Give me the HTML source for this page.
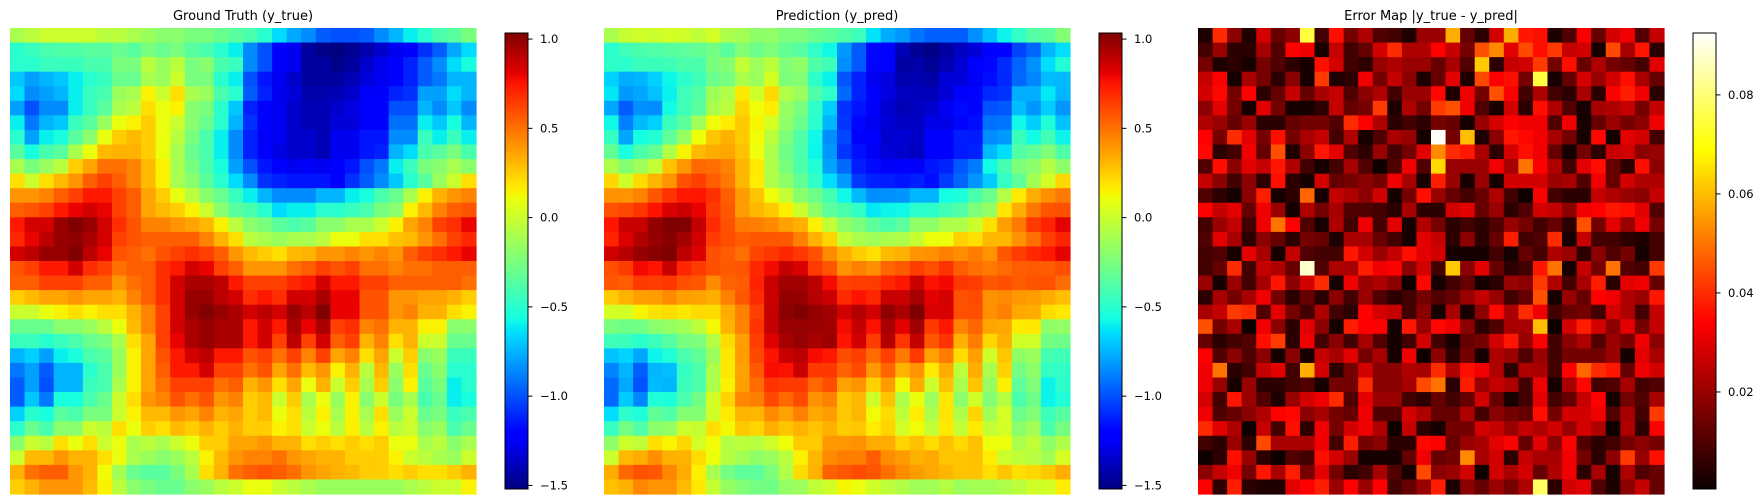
<!DOCTYPE html>
<html><head><meta charset="utf-8">
<style>
html,body{margin:0;padding:0;background:#fff;}
svg{display:block;font-family:"DejaVu Sans","Liberation Sans",sans-serif;}
</style></head>
<body>
<svg id="chart" width="1762" height="504" viewBox="0 0 1762 504" xmlns="http://www.w3.org/2000/svg">
<text x="243" y="20" text-anchor="middle" font-size="13" fill="#000">Ground Truth (y_true)</text>
<text x="837" y="20" text-anchor="middle" font-size="13" fill="#000">Prediction (y_pred)</text>
<text x="1431" y="20" text-anchor="middle" font-size="13" fill="#000">Error Map |y_true - y_pred|</text>
<g id="g1"></g>
<g id="g2"></g>
<g id="g3"></g>
<g id="cb1"></g>
<g id="cb2"></g>
<g id="cb3"></g>
</svg>
<script>
const truthValues = [
[-0.1,-0.05,0,0,0,0,-0.05,-0.05,-0.1,-0.15,-0.2,-0.2,-0.25,-0.25,-0.3,-0.35,-0.4,-0.5,-0.65,-0.78,-0.85,-0.97,-1.0,-1.0,-0.97,-0.85,-0.75,-0.6,-0.5,-0.4,-0.35,-0.25],
[-0.5,-0.45,-0.4,-0.38,-0.38,-0.35,-0.35,-0.3,-0.35,-0.25,-0.3,-0.25,-0.35,-0.4,-0.5,-0.6,-0.85,-1.0,-1.2,-1.27,-1.45,-1.5,-1.55,-1.48,-1.42,-1.35,-1.27,-1.2,-1.08,-0.97,-0.78,-0.65],
[-0.5,-0.5,-0.45,-0.45,-0.45,-0.4,-0.4,-0.25,-0.25,-0.05,-0.15,-0.05,-0.25,-0.2,-0.4,-0.45,-0.85,-1.0,-1.2,-1.27,-1.45,-1.45,-1.5,-1.45,-1.35,-1.27,-1.2,-1.12,-0.97,-0.85,-0.65,-0.55],
[-0.7,-0.8,-0.75,-0.7,-0.6,-0.5,-0.45,-0.3,-0.3,-0.1,-0.15,0,-0.25,-0.25,-0.5,-0.6,-1.0,-1.15,-1.27,-1.35,-1.45,-1.45,-1.45,-1.4,-1.32,-1.27,-1.2,-1.12,-0.97,-0.9,-0.75,-0.75],
[-0.65,-0.85,-0.8,-0.75,-0.6,-0.45,-0.4,-0.15,-0.1,0.15,0,0.2,-0.1,-0.15,-0.4,-0.5,-0.97,-1.12,-1.27,-1.32,-1.42,-1.42,-1.4,-1.35,-1.25,-1.2,-1.12,-1.08,-0.8,-0.8,-0.65,-0.75],
[-0.8,-1.0,-0.85,-0.85,-0.6,-0.45,-0.35,-0.1,-0.05,0.2,0.1,0.15,-0.2,-0.25,-0.5,-0.7,-1.12,-1.2,-1.27,-1.35,-1.4,-1.4,-1.35,-1.3,-1.2,-1.2,-1.0,-1.0,-0.75,-0.85,-0.7,-0.85],
[-0.6,-0.9,-0.75,-0.7,-0.45,-0.35,-0.15,0.1,0.15,0.25,0.1,0,-0.2,-0.3,-0.5,-0.75,-1.08,-1.2,-1.27,-1.35,-1.4,-1.4,-1.32,-1.32,-1.2,-1.2,-0.92,-0.92,-0.6,-0.7,-0.55,-0.75],
[-0.5,-0.8,-0.6,-0.55,-0.35,-0.2,0.1,0.25,0.3,0.25,0.1,-0.05,-0.25,-0.4,-0.6,-0.85,-1.12,-1.25,-1.27,-1.35,-1.35,-1.4,-1.27,-1.27,-1.15,-1.15,-0.85,-0.85,-0.45,-0.6,-0.45,-0.6],
[-0.35,-0.55,-0.4,-0.35,-0.1,0.1,0.3,0.32,0.32,0.25,0.1,-0.1,-0.3,-0.4,-0.6,-0.85,-1.12,-1.2,-1.3,-1.35,-1.35,-1.4,-1.27,-1.27,-1.15,-1.12,-0.75,-0.65,-0.4,-0.35,-0.25,-0.4],
[-0.1,-0.25,-0.15,-0.05,0.25,0.36,0.5,0.5,0.45,0.3,0.15,-0.1,-0.25,-0.4,-0.55,-0.8,-1.0,-1.15,-1.2,-1.27,-1.25,-1.27,-1.2,-1.15,-1.0,-0.9,-0.6,-0.45,-0.25,-0.2,-0.1,-0.2],
[0.2,0,0.2,0.3,0.4,0.55,0.63,0.55,0.45,0.3,0.15,-0.1,-0.2,-0.35,-0.5,-0.65,-0.85,-1.08,-1.12,-1.15,-1.15,-1.15,-1.2,-1.08,-0.97,-0.85,-0.7,-0.5,-0.35,-0.15,0,0.2],
[0.4,0.4,0.45,0.55,0.63,0.74,0.74,0.63,0.55,0.36,0.25,0.1,-0.05,-0.2,-0.3,-0.45,-0.6,-0.75,-0.85,-0.85,-0.85,-0.75,-0.75,-0.6,-0.55,-0.4,-0.3,-0.1,0.15,0.32,0.4,0.45],
[0.55,0.58,0.63,0.74,0.8,0.85,0.8,0.63,0.55,0.36,0.3,0.25,0.15,0,-0.2,-0.35,-0.4,-0.5,-0.65,-0.6,-0.6,-0.5,-0.5,-0.45,-0.4,-0.25,-0.2,0.15,0.3,0.45,0.55,0.58],
[0.74,0.85,0.85,0.98,1.03,0.98,0.85,0.68,0.58,0.45,0.45,0.4,0.36,0.3,0.15,-0.05,-0.2,-0.25,-0.35,-0.4,-0.35,-0.2,-0.2,-0.1,-0.1,0,0.15,0.36,0.45,0.63,0.68,0.8],
[0.7,0.8,0.9,0.98,1.0,0.94,0.85,0.63,0.58,0.55,0.55,0.55,0.55,0.45,0.32,0.2,-0.05,-0.1,-0.15,-0.1,-0.1,-0.05,0.1,0.1,0.2,0.2,0.28,0.3,0.4,0.5,0.63,0.7],
[0.85,0.9,0.98,0.98,1.03,0.9,0.8,0.58,0.55,0.5,0.58,0.63,0.68,0.63,0.55,0.4,0.3,0.25,0.2,0.3,0.32,0.4,0.4,0.45,0.4,0.45,0.4,0.55,0.63,0.68,0.74,0.8],
[0.58,0.63,0.74,0.74,0.85,0.68,0.63,0.5,0.55,0.55,0.68,0.74,0.85,0.8,0.63,0.55,0.4,0.4,0.4,0.5,0.55,0.63,0.58,0.63,0.5,0.5,0.45,0.5,0.5,0.55,0.55,0.55],
[0.55,0.55,0.63,0.63,0.63,0.55,0.55,0.4,0.5,0.55,0.68,0.85,0.94,0.94,0.9,0.74,0.63,0.63,0.63,0.7,0.74,0.85,0.74,0.74,0.63,0.63,0.55,0.55,0.55,0.55,0.55,0.5],
[0.25,0.3,0.36,0.36,0.4,0.36,0.36,0.32,0.45,0.55,0.68,0.85,0.98,0.98,0.9,0.85,0.68,0.74,0.68,0.85,0.85,0.94,0.8,0.8,0.58,0.58,0.4,0.4,0.36,0.36,0.32,0.25],
[0,0,0.1,0.15,0.2,0.15,0.2,0.2,0.32,0.45,0.63,0.85,0.98,1.03,0.98,0.94,0.85,0.9,0.85,0.98,0.9,1.03,0.8,0.8,0.58,0.58,0.4,0.45,0.32,0.32,0.2,0.15],
[-0.3,-0.3,-0.3,-0.2,-0.2,-0.15,-0.05,0.1,0.3,0.45,0.63,0.85,0.94,0.98,0.94,0.94,0.74,0.85,0.74,0.94,0.8,0.94,0.63,0.68,0.45,0.5,0.32,0.32,0.15,0.15,-0.2,-0.2],
[-0.45,-0.45,-0.5,-0.45,-0.4,-0.3,-0.25,-0.1,0.2,0.36,0.63,0.8,0.94,0.98,0.94,0.94,0.74,0.85,0.63,0.9,0.63,0.85,0.55,0.63,0.32,0.45,0.2,0.32,0,0,-0.3,-0.3],
[-0.75,-0.68,-0.8,-0.6,-0.55,-0.4,-0.35,-0.15,0.15,0.36,0.58,0.74,0.85,0.9,0.74,0.74,0.58,0.63,0.5,0.63,0.45,0.63,0.36,0.45,0.2,0.36,0,0.25,-0.2,-0.15,-0.45,-0.45],
[-0.9,-0.8,-0.97,-0.75,-0.75,-0.5,-0.4,-0.15,0.15,0.36,0.55,0.74,0.74,0.85,0.63,0.63,0.5,0.58,0.36,0.5,0.3,0.4,0.15,0.32,-0.05,0.3,-0.15,0.2,-0.3,-0.2,-0.5,-0.5],
[-0.97,-0.8,-1.0,-0.75,-0.75,-0.45,-0.4,-0.1,0.15,0.36,0.5,0.63,0.63,0.63,0.5,0.55,0.32,0.4,0.2,0.36,0.1,0.32,0,0.25,-0.1,0.25,-0.2,0.15,-0.35,-0.25,-0.6,-0.5],
[-0.97,-0.7,-0.9,-0.55,-0.55,-0.4,-0.3,0,0.2,0.4,0.45,0.58,0.5,0.58,0.4,0.45,0.25,0.3,0,0.25,-0.1,0.1,-0.15,0.15,-0.2,0,-0.25,-0.1,-0.4,-0.3,-0.6,-0.55],
[-0.68,-0.5,-0.55,-0.35,-0.4,-0.25,-0.25,0,0.15,0.3,0.3,0.4,0.36,0.45,0.32,0.36,0.25,0.3,0.1,0.2,-0.05,0.15,-0.1,0.15,-0.1,0.2,-0.15,0,-0.3,-0.25,-0.45,-0.4],
[-0.5,-0.3,-0.4,-0.2,-0.2,0,-0.05,0.2,0.1,0.25,0.2,0.3,0.25,0.32,0.25,0.32,0.25,0.25,0.15,0.2,0,0.1,-0.05,0.15,-0.05,0.15,-0.05,0,-0.2,-0.15,-0.4,-0.3],
[-0.2,0,-0.05,0.2,0.1,0.2,0,0.1,-0.1,-0.05,-0.1,0,0.1,0.25,0.25,0.36,0.36,0.4,0.32,0.32,0.2,0.25,0.2,0.25,0.2,0.25,0.1,0.1,-0.1,-0.05,-0.2,-0.1],
[0,0.3,0.3,0.4,0.32,0.32,0.2,0.1,-0.1,-0.15,-0.2,-0.15,-0.05,0.15,0.3,0.4,0.45,0.45,0.5,0.4,0.36,0.32,0.32,0.25,0.25,0.25,0.15,0,-0.05,-0.1,-0.15,0],
[0.32,0.5,0.55,0.55,0.4,0.32,0.12,-0.12,-0.3,-0.35,-0.35,-0.25,-0.1,0.2,0.32,0.5,0.55,0.58,0.55,0.5,0.4,0.36,0.32,0.3,0.25,0.25,0.2,0.25,0.2,0.2,0.25,0.32],
[0.25,0.32,0.4,0.4,0.4,0.3,0.15,-0.05,-0.2,-0.25,-0.3,-0.3,-0.2,-0.15,-0.05,0,0.1,0.1,0,-0.05,-0.1,-0.15,-0.15,-0.15,-0.15,-0.15,-0.15,-0.1,-0.05,0,0,0.15]
];
// absolute error in units of 1e-3
const errorMilli = [
[3,40,18,3,28,13,18,75,8,36,15,23,10,8,3,20,20,58,13,5,28,58,37,36,3,10,33,13,28,32,10,26],
[8,20,5,5,22,10,34,32,2,26,8,13,28,40,23,23,34,26,15,45,53,30,44,36,42,26,28,2,44,22,37,5],
[15,3,5,2,15,10,5,2,36,28,8,5,20,23,20,20,13,22,10,62,5,26,28,42,15,36,13,23,15,13,8,30],
[26,34,2,22,15,5,18,2,42,3,5,32,15,26,18,3,13,30,3,44,34,36,15,75,2,13,28,20,28,36,22,13],
[28,35,15,34,5,13,26,13,22,26,10,18,23,8,20,20,35,3,32,15,45,34,8,23,8,5,22,5,34,38,32,5],
[18,30,15,2,30,15,2,2,5,26,13,15,42,3,23,15,42,45,32,10,2,28,5,36,23,10,2,22,23,26,15,26],
[23,20,13,20,5,5,13,15,15,10,40,34,23,5,8,5,15,13,2,20,28,34,32,32,10,32,2,13,20,15,18,32],
[34,15,40,30,15,36,15,22,26,8,23,2,10,22,20,2,92,15,60,3,18,37,35,32,22,15,2,35,2,30,28,8],
[35,5,8,32,13,45,3,18,37,30,10,5,20,8,15,30,53,40,37,22,5,28,36,32,13,2,15,5,26,28,18,20],
[10,36,18,30,26,37,23,8,2,8,22,10,1,10,32,10,64,20,20,20,32,22,50,34,23,8,30,36,13,5,36,18],
[26,18,8,18,5,36,5,2,28,13,15,18,15,32,22,2,38,20,2,20,2,28,28,28,20,22,10,32,13,28,23,23],
[10,5,2,18,38,2,5,48,2,26,23,18,28,2,15,36,20,13,8,13,23,8,1,34,8,5,5,26,23,20,18,26],
[34,26,30,13,32,20,2,23,15,22,10,10,8,5,22,5,5,28,30,13,20,5,10,28,26,18,32,34,37,36,30,10],
[8,20,26,8,32,50,34,10,2,23,8,32,8,30,2,23,15,5,8,5,10,20,15,8,13,5,45,15,30,20,32,15],
[10,30,22,5,18,13,5,15,13,3,22,22,13,8,2,30,26,5,18,5,13,38,8,10,40,2,26,8,8,5,3,8],
[8,10,2,30,22,2,26,10,8,8,37,28,20,26,36,30,28,2,2,2,8,2,13,8,23,20,5,18,10,15,2,8],
[8,13,40,8,26,23,13,88,10,23,22,38,32,34,18,28,8,62,18,30,13,5,8,37,50,2,26,15,50,10,8,42],
[20,2,20,8,22,37,18,28,40,2,32,20,23,18,1,35,2,8,13,2,5,20,18,42,23,8,22,38,5,30,32,13],
[5,22,15,22,32,15,5,13,5,18,8,20,10,5,8,15,10,13,20,26,20,8,13,45,2,20,13,34,32,23,20,37],
[22,26,42,40,10,30,15,8,23,8,5,34,28,26,8,18,2,22,2,18,35,22,40,32,8,13,15,8,28,23,8,26],
[45,15,22,1,32,18,5,30,18,2,38,34,34,2,37,20,35,32,18,5,10,22,22,60,1,28,38,28,18,30,15,26],
[13,5,8,10,36,42,5,32,8,18,8,22,10,2,8,28,8,2,13,15,28,37,20,34,8,18,23,10,20,15,32,18],
[34,10,18,10,18,2,18,2,26,22,30,15,22,2,32,1,18,5,15,2,23,20,10,20,8,15,15,15,20,2,30,22],
[32,50,5,8,26,30,8,58,28,5,15,28,18,18,23,22,40,23,36,32,23,5,23,22,8,34,48,40,37,13,32,28],
[32,20,2,20,5,5,8,10,2,15,15,40,18,18,22,44,50,5,38,20,26,23,8,32,2,22,35,8,10,22,8,10],
[28,8,37,20,10,3,20,28,32,40,10,30,20,20,8,5,13,8,13,28,13,2,8,30,8,13,26,34,2,15,10,22],
[32,10,13,18,23,34,35,18,22,15,13,32,10,10,28,23,13,13,23,8,18,15,13,36,15,28,28,32,10,22,8,42],
[40,30,23,1,26,8,36,5,32,15,28,32,23,1,26,5,2,15,15,28,26,20,26,23,28,20,28,23,1,23,5,34],
[8,5,20,5,44,22,22,22,32,8,38,15,18,5,5,35,34,13,20,22,30,34,13,30,18,34,10,5,8,15,18,15],
[1,5,36,20,5,1,10,8,36,28,20,2,2,2,13,32,13,15,53,22,28,5,26,22,22,32,15,5,18,42,20,36],
[18,26,32,15,37,22,38,15,30,15,5,8,22,10,2,44,18,20,28,1,28,22,28,13,23,32,5,22,2,23,10,13],
[34,5,38,5,3,3,30,34,38,20,34,20,34,8,13,20,38,3,18,13,20,15,23,78,5,28,30,10,3,18,26,13]
];
const jetTickLabels = ["1.0","0.5","0.0","\u22120.5","\u22121.0","\u22121.5"];
const jetTickValues = [1.0,0.5,0.0,-0.5,-1.0,-1.5];
const hotTickLabels = ["0.02","0.04","0.06","0.08"];
const hotTickValues = [0.02,0.04,0.06,0.08];

const JET_MIN = -1.52, JET_MAX = 1.034;
const HOT_MIN = 0.0004, HOT_MAX = 0.0925;
const NS = "http://www.w3.org/2000/svg";

function interp(pts, t){
  if (t <= pts[0][0]) return pts[0][1];
  for (let i=1;i<pts.length;i++){
    if (t <= pts[i][0]){
      const a=pts[i-1], b=pts[i];
      return a[1] + (b[1]-a[1])*(t-a[0])/(b[0]-a[0]);
    }
  }
  return pts[pts.length-1][1];
}
const JR=[[0,0],[0.35,0],[0.66,1],[0.89,1],[1,0.5]];
const JG=[[0,0],[0.125,0],[0.375,1],[0.64,1],[0.91,0],[1,0]];
const JB=[[0,0.5],[0.11,1],[0.34,1],[0.65,0],[1,0]];
const HR=[[0,0.0416],[0.365079,1],[1,1]];
const HG=[[0,0],[0.365079,0],[0.746032,1],[1,1]];
const HB=[[0,0],[0.746032,0],[1,1]];
function rgb(r,g,b){return "rgb("+Math.round(r*255)+","+Math.round(g*255)+","+Math.round(b*255)+")";}
function jet(t){t=Math.max(0,Math.min(1,t));return rgb(interp(JR,t),interp(JG,t),interp(JB,t));}
function hot(t){t=Math.max(0,Math.min(1,t));return rgb(interp(HR,t),interp(HG,t),interp(HB,t));}

const MAP_Y = 28, MAP_SIZE = 466;
function drawHeatmap(gid, x0, grid, cmap, vmin, vmax, name){
  const g = document.getElementById(gid);
  const rows = grid.length, cols = grid[0].length;
  const cw = MAP_SIZE/cols, ch = MAP_SIZE/rows;
  for (let r=0;r<rows;r++){
    for (let c=0;c<cols;c++){
      const rect = document.createElementNS(NS,"rect");
      
      
      rect.setAttribute("x", (x0 + c*cw).toFixed(2));
      rect.setAttribute("y", (MAP_Y + r*ch).toFixed(2));
      rect.setAttribute("width", (cw+0.6).toFixed(2));
      rect.setAttribute("height", (ch+0.6).toFixed(2));
      rect.setAttribute("fill", cmap((grid[r][c]-vmin)/(vmax-vmin)));
      g.appendChild(rect);
    }
  }
}
const CB_Y0 = 33, CB_Y1 = 489, CB_W = 23;
function drawColorbar(gid, x0, cmap, vmin, vmax, tickVals, tickLabels){
  const g = document.getElementById(gid);
  const n = 228, h = (CB_Y1-CB_Y0)/n;
  for (let i=0;i<n;i++){
    const rect = document.createElementNS(NS,"rect");
    
    
    rect.setAttribute("x", x0);
    rect.setAttribute("y", (CB_Y0 + i*h).toFixed(2));
    rect.setAttribute("width", CB_W);
    rect.setAttribute("height", (h+0.5).toFixed(2));
    rect.setAttribute("fill", cmap(1 - (i+0.5)/n));
    g.appendChild(rect);
  }
  const border = document.createElementNS(NS,"rect");
  
  
  border.setAttribute("x", x0); border.setAttribute("y", CB_Y0);
  border.setAttribute("width", CB_W); border.setAttribute("height", CB_Y1-CB_Y0);
  border.setAttribute("fill","none"); border.setAttribute("stroke","#000"); border.setAttribute("stroke-width","1");
  g.appendChild(border);
  for (let i=0;i<tickVals.length;i++){
    const y = CB_Y0 + (vmax - tickVals[i])/(vmax-vmin)*(CB_Y1-CB_Y0);
    const ln = document.createElementNS(NS,"line");
    
    
    ln.setAttribute("x1", x0+CB_W); ln.setAttribute("x2", x0+CB_W+4.5);
    ln.setAttribute("y1", y); ln.setAttribute("y2", y);
    ln.setAttribute("stroke","#000"); ln.setAttribute("stroke-width","1");
    g.appendChild(ln);
    const tx = document.createElementNS(NS,"text");
    
    
    tx.setAttribute("x", x0+CB_W+12); tx.setAttribute("y", y+4);
    tx.setAttribute("font-size","11.5"); tx.setAttribute("fill","#000");
    tx.textContent = tickLabels[i];
    g.appendChild(tx);
  }
}
const errorValues = errorMilli.map(row => row.map(v => v/1000));
const predValues = truthValues.map((row,r) => row.map((v,c) => v + errorValues[r][c]));

drawHeatmap("g1", 10, truthValues, jet, JET_MIN, JET_MAX, "truth-cell");
drawHeatmap("g2", 604, predValues, jet, JET_MIN, JET_MAX, "prediction-cell");
drawHeatmap("g3", 1198, errorValues, hot, HOT_MIN, HOT_MAX, "error-cell");
drawColorbar("cb1", 505, jet, JET_MIN, JET_MAX, jetTickValues, jetTickLabels);
drawColorbar("cb2", 1099, jet, JET_MIN, JET_MAX, jetTickValues, jetTickLabels);
drawColorbar("cb3", 1693, hot, HOT_MIN, HOT_MAX, hotTickValues, hotTickLabels);
</script>
</body></html>
